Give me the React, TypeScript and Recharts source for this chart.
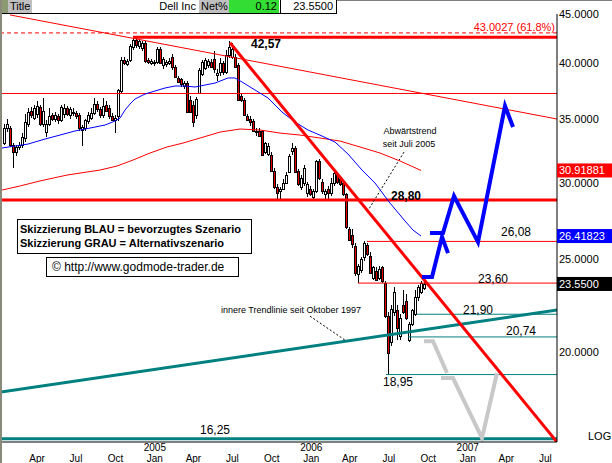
import React from 'react';
import { ComposedChart, Bar, Line, XAxis, YAxis, ReferenceLine, ReferenceDot } from 'recharts';

const FONT = '"Liberation Sans", Arial, Helvetica, sans-serif';

// weekly candles, x axis counts weeks from 1 Jan 2004
const firstWeek = 2;
const opens = [
  33.0, 34.2, 34.2, 32.9, 32.3, 32.7, 32.9, 33.4, 34.6, 35.7, 35.1, 35.4, 36.0, 34.6, 33.9, 34.6, 35.3, 35.0, 35.2, 34.9,
  35.4, 35.9, 35.3, 35.5, 35.5, 35.3, 34.1, 34.2, 34.8, 35.1, 35.5, 36.3, 35.8, 35.3, 36.2, 35.9, 35.2, 34.9, 35.2, 37.4,
  40.3, 39.9, 40.3, 41.6, 42.3, 41.7, 41.5, 42.0, 40.3, 40.0, 40.0, 40.1, 41.4, 39.8, 39.9, 40.0, 40.6, 39.6, 38.6, 38.5,
  37.9, 38.1, 36.6, 36.2, 35.3, 37.2, 39.0, 39.5, 39.8, 40.1, 40.4, 38.9, 39.2, 40.0, 39.2, 40.8, 40.6, 40.6, 39.8, 37.0,
  36.6, 35.2, 35.0, 34.8, 33.9, 34.0, 34.0, 32.3, 32.2, 32.1, 30.9, 29.7, 29.4, 29.6, 30.0, 30.8, 32.4, 32.6, 30.9, 29.7,
  30.0, 29.3, 29.6, 29.0, 29.4, 31.6, 30.1, 29.2, 29.6, 29.3, 30.0, 30.6, 30.3, 30.0, 29.2, 26.9, 26.5, 25.8, 24.1, 24.35,
  25.1, 25.85, 25.2, 23.9, 24.3, 23.9, 24.5, 23.6, 21.8, 20.5, 22.0, 22.1, 20.8, 22.4, 22.6, 20.6, 21.4, 21.9, 22.8, 23.1,
  23.3,
];
const highs = [
  34.6, 35.0, 34.4, 33.0, 32.9, 33.1, 33.8, 35.4, 35.9, 36.0, 36.2, 36.5, 36.2, 36.8, 34.9, 35.9, 35.5, 35.6, 35.4, 36.2,
  36.3, 36.1, 36.0, 35.9, 35.7, 35.5, 34.5, 35.0, 35.6, 35.9, 36.8, 36.5, 36.0, 36.8, 36.5, 36.2, 35.5, 35.3, 37.6, 40.6,
  40.6, 40.4, 41.9, 42.6, 42.5, 42.4, 42.2, 42.2, 40.5, 40.4, 40.3, 41.6, 41.6, 40.6, 40.3, 40.5, 40.9, 39.8, 38.8, 38.6,
  38.3, 38.3, 37.0, 36.5, 36.9, 39.5, 40.3, 40.5, 40.4, 40.4, 41.2, 39.4, 40.5, 40.2, 41.3, 42.2, 42.0, 40.9, 40.0, 37.2,
  36.8, 35.4, 35.2, 35.0, 34.2, 34.2, 34.1, 33.1, 33.0, 32.3, 31.1, 29.9, 29.7, 30.3, 30.8, 32.2, 33.0, 32.8, 31.0, 30.6,
  31.3, 30.1, 29.8, 29.6, 31.7, 31.8, 30.3, 29.6, 29.8, 30.4, 30.9, 30.8, 30.5, 30.2, 29.3, 27.0, 26.9, 26.0, 24.7, 25.1,
  26.08, 26.0, 25.4, 24.6, 24.5, 24.6, 24.6, 23.7, 22.0, 22.4, 23.4, 22.4, 21.9, 23.2, 23.0, 21.5, 22.2, 23.2, 23.5, 23.7,
  24.0,
];
const lows = [
  32.9, 33.9, 32.7, 31.1, 32.0, 32.5, 32.6, 33.1, 34.3, 35.1, 34.9, 35.1, 34.4, 34.3, 33.5, 34.4, 34.8, 34.7, 34.6, 34.7,
  35.1, 35.2, 35.0, 35.2, 35.0, 34.0, 32.8, 34.0, 34.6, 34.9, 35.3, 35.6, 35.1, 35.1, 35.6, 35.0, 34.8, 33.8, 34.8, 37.2,
  39.8, 39.7, 40.1, 41.3, 41.5, 41.4, 41.2, 40.0, 39.9, 39.8, 39.7, 39.9, 39.9, 39.4, 39.6, 39.8, 39.3, 38.6, 38.1, 37.8,
  37.6, 35.5, 35.5, 34.3, 35.0, 37.1, 38.8, 39.3, 39.5, 39.5, 39.1, 38.3, 38.8, 38.9, 39.0, 40.5, 40.4, 39.5, 36.5, 36.4,
  35.2, 34.8, 34.4, 33.9, 33.6, 33.5, 32.0, 32.2, 32.0, 30.8, 29.6, 28.8, 28.9, 29.5, 29.9, 30.7, 32.1, 30.7, 29.8, 29.5,
  29.8, 29.0, 29.1, 28.8, 29.3, 30.2, 29.2, 28.9, 28.8, 29.1, 29.8, 29.9, 29.8, 29.1, 26.9, 26.1, 25.7, 24.0, 23.6, 24.2,
  24.9, 25.2, 24.1, 23.8, 23.7, 23.8, 23.6, 21.7, 18.95, 20.3, 21.8, 20.6, 20.6, 21.9, 21.6, 20.48, 21.3, 21.8, 22.6, 23.0,
  23.2,
];
const closes = [
  34.2, 34.6, 32.9, 32.3, 32.7, 32.9, 33.5, 34.7, 35.6, 35.3, 35.9, 36.1, 34.6, 35.7, 34.6, 35.2, 35.0, 35.3, 34.9, 36.0,
  35.9, 35.4, 35.8, 35.6, 35.2, 34.2, 34.3, 34.9, 35.3, 35.5, 36.3, 35.8, 35.3, 36.1, 35.7, 35.2, 34.9, 35.1, 37.5, 40.3,
  40.0, 40.2, 41.7, 42.3, 41.8, 42.2, 42.0, 40.2, 40.1, 40.2, 40.1, 41.4, 40.0, 40.4, 40.1, 40.2, 39.6, 38.7, 38.2, 38.0,
  38.1, 35.6, 35.6, 34.7, 36.7, 39.3, 40.1, 40.3, 40.2, 39.6, 39.4, 39.1, 40.0, 39.2, 40.8, 41.6, 41.4, 39.6, 36.6, 36.6,
  35.3, 34.9, 34.7, 34.0, 34.0, 33.6, 32.1, 33.0, 32.8, 30.9, 29.7, 29.3, 29.6, 30.0, 30.6, 32.0, 32.6, 30.8, 29.9, 30.4,
  31.1, 29.9, 29.2, 29.4, 31.6, 30.4, 29.4, 29.4, 29.3, 30.0, 30.7, 30.1, 29.9, 29.2, 27.0, 26.2, 25.9, 24.2, 24.6, 25.0,
  26.0, 25.3, 24.2, 24.5, 23.8, 24.4, 23.7, 21.8, 19.95, 22.2, 23.1, 21.2, 21.7, 22.0, 21.7, 21.4, 22.1, 22.8, 23.4, 23.6,
  23.55,
];

// moving averages
const fastMaWeeks = [1.33, 10, 15.67, 20.67, 25.67, 30.67, 35.67, 39, 40.67, 42.33, 44, 45.67, 49, 52.33, 55.67, 59, 62.33, 65.67, 69, 72.33, 76.67, 79, 81.33, 85.67, 90, 94.67, 99, 103.33, 108, 112.33, 116.67, 121.33, 125.67, 130.67, 135.67, 138.33, 141];
const fastMaValues = [32.63, 32.94, 33.34, 33.66, 33.99, 34.23, 34.48, 34.81, 35.06, 35.74, 36.26, 36.7, 37.14, 37.41, 37.68, 37.86, 37.86, 37.77, 37.95, 38.13, 38.6, 38.6, 38.23, 37.5, 36.79, 35.57, 34.73, 34.07, 33.58, 33.1, 32.16, 30.95, 30.0, 28.59, 27.39, 26.8, 26.42];
const slowMaWeeks = [1.33, 7.33, 14, 23, 34, 39.67, 45, 50.67, 56.33, 61.67, 67.33, 74, 80.67, 87.33, 94, 100.67, 107.33, 114, 120.67, 127.33, 134, 141];
const slowMaValues = [29.5, 29.79, 30.15, 30.58, 30.95, 31.25, 31.7, 32.24, 32.71, 33.02, 33.42, 33.9, 34.15, 34.07, 33.82, 33.66, 33.42, 33.18, 32.71, 32.24, 31.63, 30.92];

// scenario sketches
const blueFirstWeeks = [141.33, 144.67, 148, 150];
const blueFirstValues = [23.95, 23.95, 26.36, 25.36];
const blueSecondWeeks = [144, 148.33, 152, 160, 169, 171.67];
const blueSecondValues = [26.61, 26.61, 29.08, 26.04, 36.09, 34.32];
const grayFirstWeeks = [142, 145, 149.67];
const grayFirstValues = [20.53, 20.53, 19.02];
const graySecondWeeks = [147.67, 151.67, 161.33, 166.33];
const graySecondValues = [18.79, 18.79, 16.27, 19.02];

// levels and trend lines
const fibLevel = 43.0027;
const topLevel = 42.57;
const topLevelFrom = 45;
const midLevel = 37.19;
const supportLevel = 28.8;
const redMarks = [26.08, 23.6];
const redMarksFrom = [123, 120];
const tealMarks = [21.9, 20.74, 18.95];
const tealMarksFrom = [139.67, 136.67, 129.33];
const baseLevel = 16.25;
const outerTrend = [[4, 44.9], [186.33, 34.98]];
const downTrend = [[77.33, 42.0], [186.33, 16.12]];
const innerTrend = [[1, 18.17], [186.33, 22.12]];
const downPointer = [[135.33, 32.31], [123, 27.98]];
const innerPointer = [[104, 21.8], [115.67, 20.58]];

const boldNotes = [['42,57', 89.33, 41.87], ['28,80', 136, 29.08]];
const plainNotes = [
  ['26,08', 172.67, 26.67], ['23,60', 165, 23.83], ['21,90', 160, 22.12],
  ['20,74', 174.33, 21.03], ['18,95', 133.33, 18.61], ['16,25', 72.33, 16.59],
];

const tagValues = [30.91881, 26.41823, 23.55];
const tagTexts = ['30.91881', '26.41823', '23.5500'];
const tagColors = ['#ff0000', '#0000ff', '#000000'];

const monthTicks = [13.0, 26.0, 39.14, 52.29, 65.14, 78.14, 91.29, 104.43, 117.29, 130.29, 143.43, 156.57, 169.43, 182.43];
const monthLabels = ['Apr', 'Jul', 'Oct', 'Jan', 'Apr', 'Jul', 'Oct', 'Jan', 'Apr', 'Jul', 'Oct', 'Jan', 'Apr', 'Jul'];
const yearLabels = ['', '', '', '2005', '', '', '', '2006', '', '', '', '2007', '', ''];
const priceTicks = [20, 25, 30, 35, 40, 45];

const WEEK_MIN = 1;
const WEEK_MAX = 186.33;

const candles = opens.map((o, i) => ({ w: firstWeek + i, o, h: highs[i], l: lows[i], c: closes[i] }));
const toPoints = (ws: number[], ps: number[]) => ws.map((w, i) => ({ w, p: ps[i] }));
const seg = (s: number[][]) => [{ x: s[0][0], y: s[0][1] }, { x: s[1][0], y: s[1][1] }];

const Candle = (props: any) => {
  const { x, y, width, height, payload } = props;
  if (x == null || y == null || !payload) return null;
  const { o, h, l, c } = payload;
  const mid = Math.round(x + width / 2);
  const span = Math.log(h / l);
  const toY = (v: number) => (span > 0 ? y + (height * Math.log(h / v)) / span : y);
  const yo = toY(o);
  const yc = toY(c);
  const top = Math.round(Math.min(yo, yc));
  const bottom = Math.round(Math.max(yo, yc));
  return (
    <g shapeRendering="crispEdges">
      <line x1={mid + 0.5} x2={mid + 0.5} y1={y} y2={y + height} stroke="#000" strokeWidth={1} />
      <rect x={mid - 0.5} y={top + 0.5} width={2} height={Math.max(bottom - top, 1)} fill={c >= o ? '#ffffff' : '#e00000'} stroke="#000" strokeWidth={1} />
    </g>
  );
};

const MonthTick = (props: any) => {
  const { x, y, index } = props;
  return (
    <g fontFamily={FONT} fontSize={10} fill="#000">
      {yearLabels[index] ? (
        <text x={x} y={y + 7} textAnchor="middle">{yearLabels[index]}</text>
      ) : null}
      <text x={x} y={y + 18} textAnchor="middle">{monthLabels[index]}</text>
    </g>
  );
};

const valueTag = (text: string, color: string) => (p: any) => {
  const vb = p.viewBox || {};
  return (
    <g>
      <rect x={vb.x} y={vb.y - 7} width={55} height={14} fill={color} />
      <text x={vb.x + 2} y={vb.y} dy="0.36em" fill="#fff" fontSize={11} fontFamily={FONT}>{text}</text>
    </g>
  );
};

const cell = (extra: React.CSSProperties): React.CSSProperties => ({
  position: 'absolute', top: 0, height: 13, lineHeight: '13px', fontSize: 11, fontFamily: FONT, color: '#000', ...extra,
});

export default function App() {
  return (
    <div style={{ position: 'absolute', left: 0, top: 0, width: 612, height: 463, background: '#fff', overflow: 'hidden' }}>
      <ComposedChart width={612} height={463} data={candles} margin={{ top: 14, right: 0, bottom: 0, left: 1 }}>
        <XAxis
          dataKey="w"
          type="number"
          domain={[WEEK_MIN, WEEK_MAX]}
          allowDataOverflow
          ticks={monthTicks}
          interval={0}
          tick={<MonthTick />}
          tickLine={false}
          tickSize={0}
          height={21}
          axisLine={{ stroke: '#000' }}
        />
        <YAxis
          orientation="right"
          scale="log"
          domain={[16.12, 45]}
          allowDataOverflow
          ticks={priceTicks}
          interval={0}
          tickFormatter={(v: number) => v.toFixed(4)}
          tick={{ fontSize: 11, fill: '#000', fontFamily: FONT }}
          tickLine={false}
          tickSize={0}
          tickMargin={2}
          width={55}
          axisLine={{ stroke: '#000' }}
        />

        <ReferenceLine y={fibLevel} stroke="#ff0000" strokeDasharray="4 3" ifOverflow="hidden" />
        <ReferenceLine segment={[{ x: topLevelFrom, y: topLevel }, { x: WEEK_MAX, y: topLevel }]} stroke="#ff0000" strokeWidth={3} ifOverflow="hidden" />
        <ReferenceLine y={midLevel} stroke="#ff0000" ifOverflow="hidden" />
        <ReferenceLine y={supportLevel} stroke="#ff0000" strokeWidth={3} ifOverflow="hidden" />
        {redMarks.map((v, i) => (
          <ReferenceLine key={`r${i}`} segment={[{ x: redMarksFrom[i], y: v }, { x: WEEK_MAX, y: v }]} stroke="#ff0000" ifOverflow="hidden" />
        ))}
        {tealMarks.map((v, i) => (
          <ReferenceLine key={`t${i}`} segment={[{ x: tealMarksFrom[i], y: v }, { x: WEEK_MAX, y: v }]} stroke="#008080" ifOverflow="hidden" />
        ))}
        <ReferenceLine y={baseLevel} stroke="#008080" strokeWidth={3} ifOverflow="hidden" />
        <ReferenceLine segment={seg(outerTrend)} stroke="#ff0000" ifOverflow="hidden" />
        <ReferenceLine segment={seg(innerTrend)} stroke="#008080" strokeWidth={3} ifOverflow="hidden" />
        <ReferenceLine segment={seg(downPointer)} stroke="#000" strokeDasharray="2 2" ifOverflow="hidden" />
        <ReferenceLine segment={seg(innerPointer)} stroke="#000" strokeDasharray="2 2" ifOverflow="hidden" />

        <Line data={toPoints(slowMaWeeks, slowMaValues)} dataKey="p" type="linear" stroke="#ff0000" strokeWidth={1} dot={false} isAnimationActive={false} />
        <Line data={toPoints(fastMaWeeks, fastMaValues)} dataKey="p" type="linear" stroke="#0000ff" strokeWidth={1} dot={false} isAnimationActive={false} />

        <Bar dataKey={(d: any) => [d.l, d.h]} barSize={3} shape={<Candle />} isAnimationActive={false} />

        <ReferenceLine segment={seg(downTrend)} stroke="#ff0000" strokeWidth={3} ifOverflow="hidden" />

        <Line data={toPoints(grayFirstWeeks, grayFirstValues)} dataKey="p" type="linear" stroke="#c8c8c8" strokeWidth={4} dot={false} isAnimationActive={false} />
        <Line data={toPoints(graySecondWeeks, graySecondValues)} dataKey="p" type="linear" stroke="#c8c8c8" strokeWidth={4} dot={false} isAnimationActive={false} />
        <Line data={toPoints(blueFirstWeeks, blueFirstValues)} dataKey="p" type="linear" stroke="#0000ff" strokeWidth={4} dot={false} isAnimationActive={false} />
        <Line data={toPoints(blueSecondWeeks, blueSecondValues)} dataKey="p" type="linear" stroke="#0000ff" strokeWidth={4} dot={false} isAnimationActive={false} />

        {boldNotes.map(([t, w, p]) => (
          <ReferenceDot key={t as string} x={w as number} y={p as number} r={0} fill="none" stroke="none"
            label={{ value: t, position: 'center', fill: '#000', fontSize: 12, fontWeight: 'bold', fontFamily: FONT }} />
        ))}
        {plainNotes.map(([t, w, p]) => (
          <ReferenceDot key={t as string} x={w as number} y={p as number} r={0} fill="none" stroke="none"
            label={{ value: t, position: 'center', fill: '#000', fontSize: 12, fontFamily: FONT }} />
        ))}
        <ReferenceDot x={185.67} y={43.62} r={0} fill="none" stroke="none"
          label={{ value: '43.0027 (61.8%)', position: 'left', offset: 0, fill: '#ff0000', fontSize: 11, fontFamily: FONT }} />
        <ReferenceDot x={137.33} y={33.99} r={0} fill="none" stroke="none"
          label={{ value: 'Abwärtstrend', position: 'center', fill: '#000', fontSize: 9, fontFamily: FONT }} />
        <ReferenceDot x={137} y={32.94} r={0} fill="none" stroke="none"
          label={{ value: 'seit Juli 2005', position: 'center', fill: '#000', fontSize: 9, fontFamily: FONT }} />
        <ReferenceDot x={121} y={22.12} r={0} fill="none" stroke="none"
          label={{ value: 'innere Trendlinie seit Oktober 1997', position: 'left', offset: 0, fill: '#000', fontSize: 9, fontFamily: FONT }} />

        {tagValues.map((v, i) => (
          <ReferenceDot key={`tag${i}`} x={WEEK_MAX} y={v} r={0} fill="none" stroke="none" label={valueTag(tagTexts[i], tagColors[i])} />
        ))}
      </ComposedChart>

      {/* title strip */}
      <div style={{ position: 'absolute', left: 0, top: 0, width: 612, height: 1, background: '#808080' }} />
      <div style={{ position: 'absolute', left: 0, top: 0, width: 337, height: 13, background: '#fff', borderBottom: '1px solid #000' }}>
        <div style={cell({ left: 0, width: 8, background: '#8c9a74' })} />
        <div style={cell({ left: 8, width: 22, background: '#c0c0c0', paddingLeft: 2 })}>Title</div>
        <div style={cell({ left: 30, width: 166, textAlign: 'right' })}>Dell Inc</div>
        <div style={cell({ left: 199, width: 28, background: '#c0c0c0', paddingLeft: 2 })}>Net%</div>
        <div style={cell({ left: 229, width: 48, background: '#33dd33', textAlign: 'right', paddingRight: 2 })}>0.12</div>
        <div style={cell({ left: 280, width: 1, background: '#000' })} />
        <div style={cell({ left: 281, width: 52, textAlign: 'right' })}>23.5500</div>
        <div style={cell({ left: 336, width: 1, background: '#000' })} />
      </div>
      <div style={{ position: 'absolute', left: 0, top: 0, width: 2, height: 463, background: '#8a8a7a' }} />

      {/* scenario legend */}
      <div style={{ position: 'absolute', left: 17, top: 219, width: 231, height: 31, border: '1px solid #000', background: '#fff',
        fontFamily: FONT, fontWeight: 'bold', fontSize: 11, lineHeight: '14px', padding: '2px 0 0 2px', whiteSpace: 'nowrap' }}>
        <div>Skizzierung BLAU = bevorzugtes Szenario</div>
        <div>Skizzierung GRAU = Alternativszenario</div>
      </div>
      <div style={{ position: 'absolute', left: 46, top: 257, width: 186, height: 18, border: '1px solid #000', background: '#fff',
        fontFamily: FONT, fontSize: 12, lineHeight: '18px', paddingLeft: 5, whiteSpace: 'nowrap' }}>
        © http://www.godmode-trader.de
      </div>
      <div style={{ position: 'absolute', left: 588, top: 430, fontFamily: FONT, fontSize: 11, lineHeight: '13px', color: '#000' }}>LOG</div>
    </div>
  );
}
